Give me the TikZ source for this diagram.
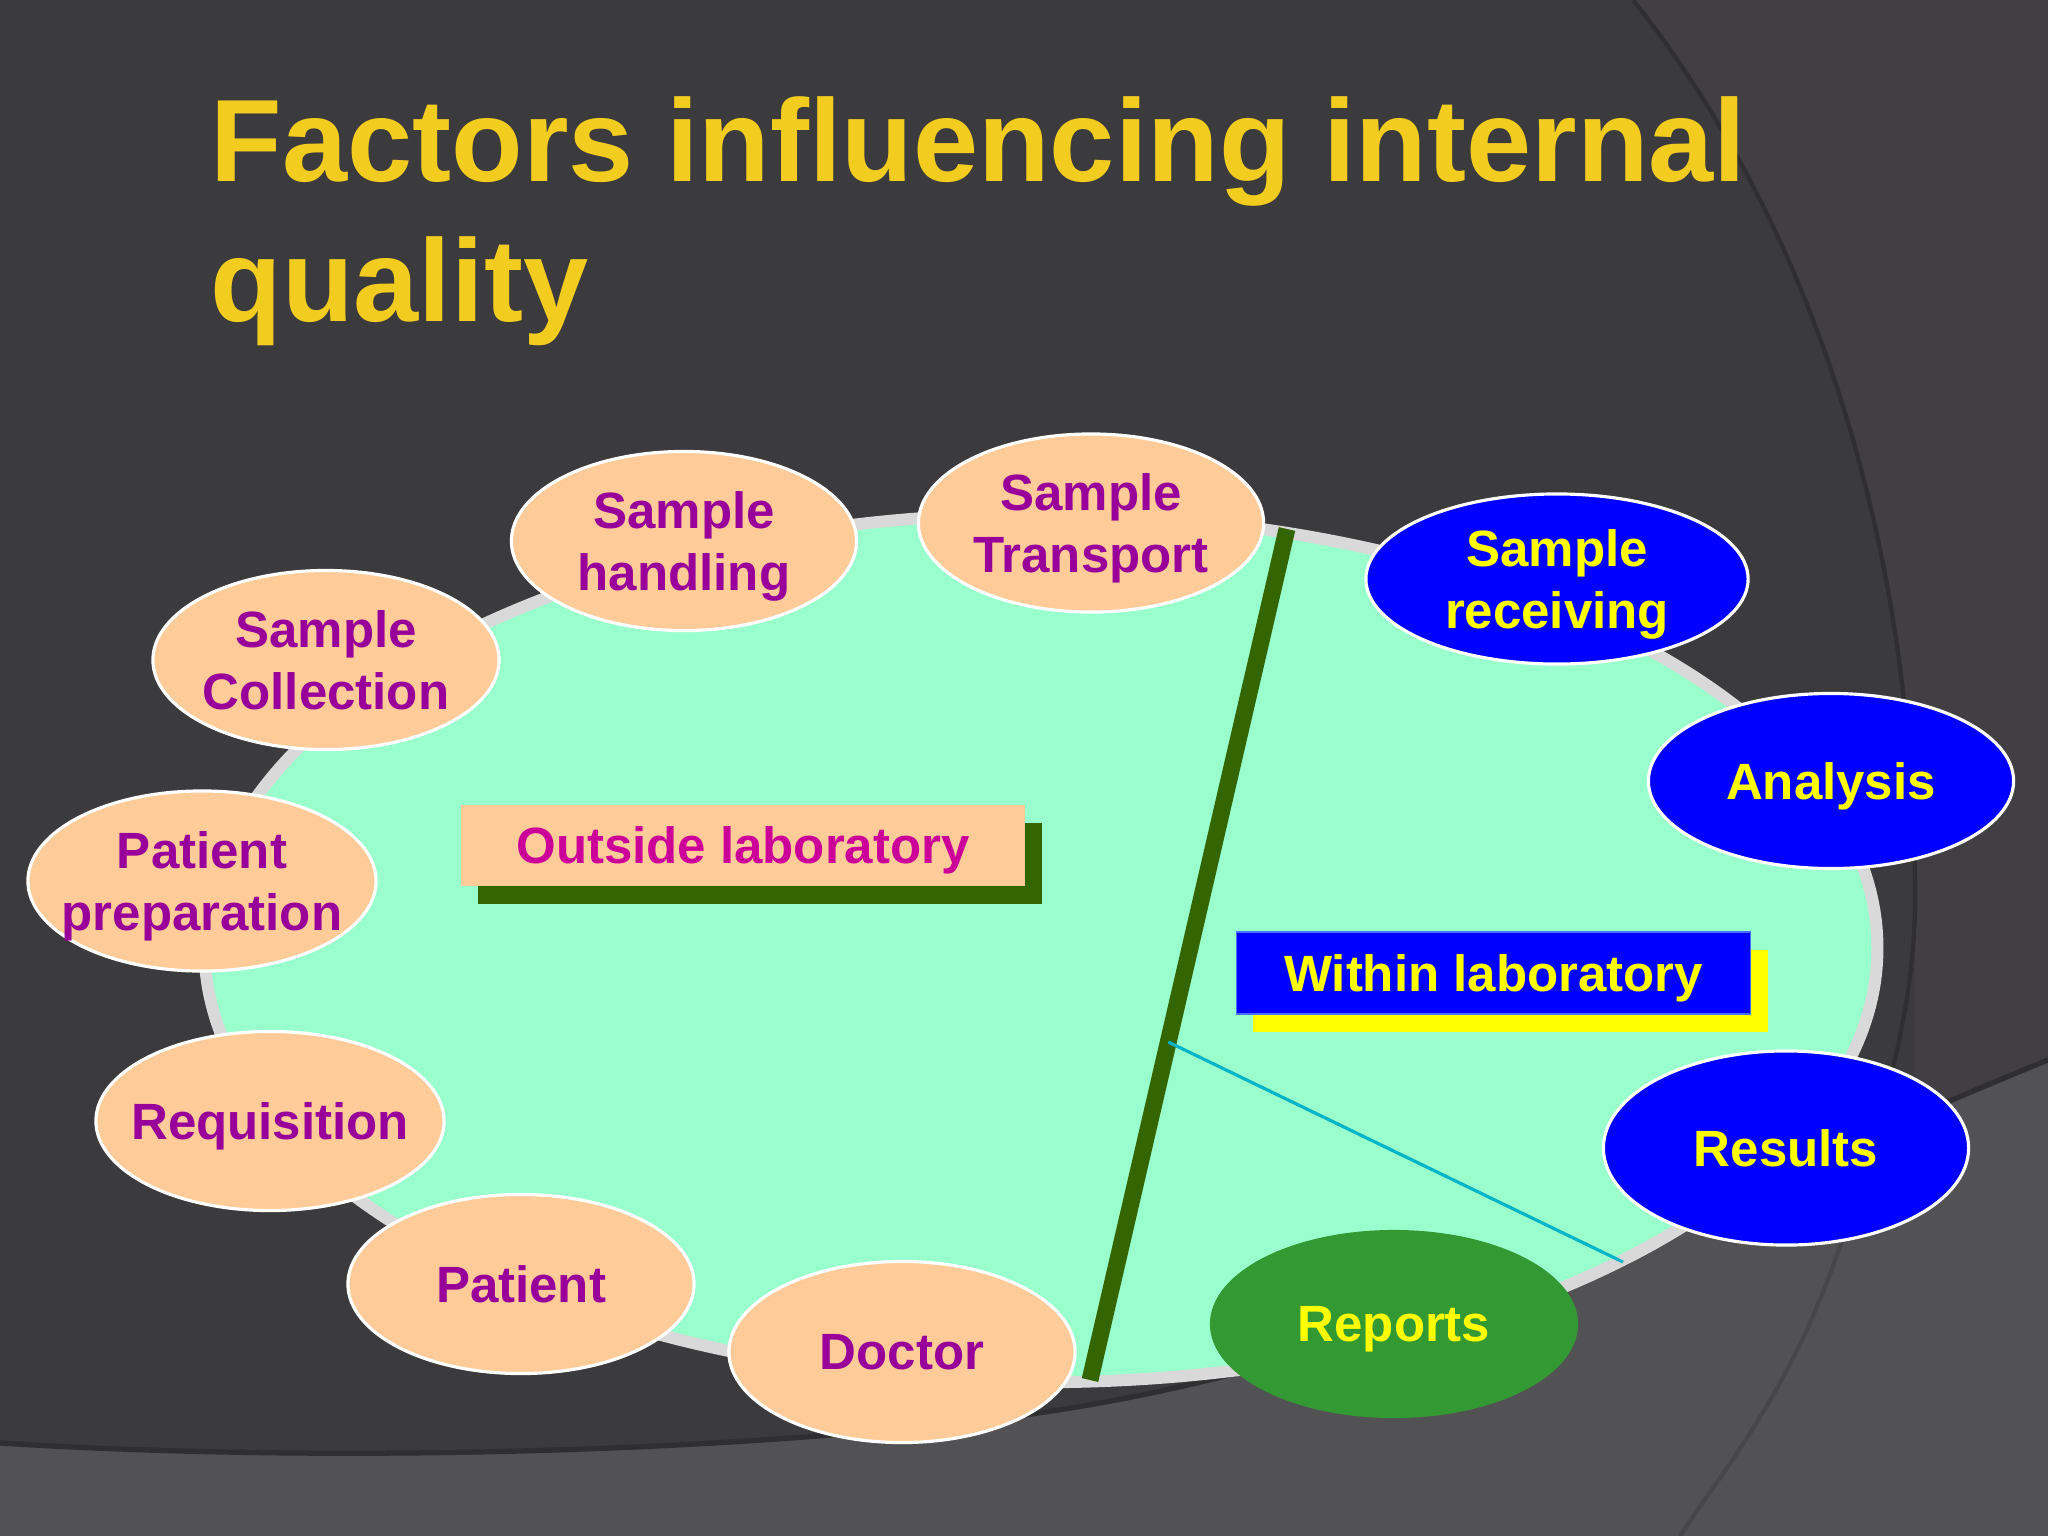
\documentclass[tikz,border=0pt]{standalone}
\usepackage{fontspec}
\setmainfont{Liberation Sans}
\usetikzlibrary{shapes.geometric,shadows,calc}
\definecolor{bgdark}{HTML}{3B3A3C}
\definecolor{bgmid}{HTML}{413F42}
\definecolor{bglight}{HTML}{525153}
\definecolor{arcdark}{HTML}{2F2E30}
\definecolor{faintarc}{HTML}{474648}
\definecolor{gold}{RGB}{242,204,30}
\definecolor{mint}{HTML}{99FFCC}
\definecolor{rimgray}{HTML}{D9D9D9}
\definecolor{peach}{HTML}{FFCC99}
\definecolor{purp}{HTML}{990099}
\definecolor{magent}{HTML}{CC0099}
\definecolor{labblue}{HTML}{0000FF}
\definecolor{labyellow}{HTML}{FFFF00}
\definecolor{repgreen}{HTML}{339933}
\definecolor{bargreen}{HTML}{336600}
\definecolor{cyanline}{RGB}{0,180,200}
\begin{document}
\begin{tikzpicture}[x=0.01cm,y=-0.01cm,
  factor/.style={ellipse, inner sep=-3cm, outer sep=0pt, text depth=0pt, align=center,
    font=\bfseries\fontsize{14.5pt}{17.4pt}\selectfont},
  outsidefac/.style={factor, fill=peach, draw=white, line width=0.9pt, text=purp},
  insidefac/.style={factor, fill=labblue, draw=white, line width=0.9pt, text=labyellow},
  reportfac/.style={factor, fill=repgreen, text=labyellow},
  labelbox/.style={rectangle, inner sep=0pt, outer sep=0pt, text depth=0pt,
    font=\bfseries\fontsize{14.5pt}{17.4pt}\selectfont}]
\useasboundingbox (0,0) rectangle (2048,1536);
% background
\fill[bgdark] (0,0) rectangle (2048,1536);
\fill[bgmid] (1633,0) .. controls (1800,210) and (1915,520) .. (1915,900) -- (1915,1150) -- (2048,1150) -- (2048,0) -- cycle;
\draw[arcdark, line width=1.2pt] (1633,0) .. controls (1800,210) and (1915,520) .. (1915,900) .. controls (1915,960) and (1905,1020) .. (1890,1080);
\fill[bglight] (0,1443) .. controls (300,1462) and (700,1455) .. (1000,1418) .. controls (1400,1370) and (1750,1180) .. (2048,1060) -- (2048,1536) -- (0,1536) -- cycle;
\draw[arcdark, line width=1.5pt] (0,1443) .. controls (300,1462) and (700,1455) .. (1000,1418) .. controls (1400,1370) and (1750,1180) .. (2048,1060);
\draw[faintarc, line width=1.2pt] (1850,1215) .. controls (1800,1380) and (1730,1460) .. (1680,1536);
% title
\node[anchor=north west, inner sep=0pt, align=left, text=gold,
  font=\bfseries\fontsize{33.3pt}{39.8pt}\selectfont] (title) at (210,96)
  {Factors influencing internal\\quality};
% big lab ellipse
\node[ellipse, fill=mint, draw=rimgray, line width=3.4pt, inner sep=0pt, outer sep=0pt,
  minimum width=16.72cm, minimum height=8.68cm] (lab) at (1041,948) {};
% divider bar and link line
\coordinate (bartop) at (1287,529);
\coordinate (barbot) at (1090,1380);
\draw[bargreen, line width=4.8pt] (bartop) -- (barbot);
\coordinate (linkA) at ($(bartop)!0.6028!(barbot)$);
\coordinate (linkB) at (1623,1262);
\draw[cyanline, line width=0.9pt] (linkA) -- (linkB);
% label boxes
\node[labelbox, fill=peach, text=magent, minimum width=5.63cm, minimum height=0.81cm,
  drop shadow={shadow xshift=0.17cm, shadow yshift=-0.175cm, fill=bargreen, opacity=1}]
  (outside) at (743,845.5) {Outside laboratory};
\node[labelbox, fill=labblue, draw={rgb,255:red,70;green,110;blue,255}, line width=0.4pt,
  text=labyellow, minimum width=5.14cm, minimum height=0.82cm,
  drop shadow={shadow xshift=0.17cm, shadow yshift=-0.18cm, fill=labyellow, opacity=1}]
  (within) at (1493.5,973) {Within laboratory};
% outside-laboratory factors
\node[outsidefac, minimum width=3.46cm, minimum height=1.79cm] (coll) at (326,660) {Sample\\Collection};
\node[outsidefac, minimum width=3.45cm, minimum height=1.79cm] (hand) at (684,541) {Sample\\handling};
\node[outsidefac, minimum width=3.45cm, minimum height=1.78cm] (trans) at (1091,523) {Sample\\Transport};
\node[outsidefac, minimum width=3.48cm, minimum height=1.80cm] (prep) at (202,881) {Patient\\preparation};
\node[outsidefac, minimum width=3.48cm, minimum height=1.79cm] (req) at (270,1121) {Requisition};
\node[outsidefac, minimum width=3.46cm, minimum height=1.79cm] (pat) at (521,1284) {Patient};
\node[outsidefac, minimum width=3.46cm, minimum height=1.81cm] (doc) at (902,1352) {Doctor};
% within-laboratory factors
\node[insidefac, minimum width=3.82cm, minimum height=1.70cm] (recv) at (1557,579) {Sample\\receiving};
\node[insidefac, minimum width=3.65cm, minimum height=1.75cm] (anal) at (1831,781) {Analysis};
\node[insidefac, minimum width=3.65cm, minimum height=1.94cm] (res) at (1786,1148) {Results};
\node[reportfac, minimum width=3.68cm, minimum height=1.88cm] (rep) at (1394,1324) {Reports};
\end{tikzpicture}
\end{document}
